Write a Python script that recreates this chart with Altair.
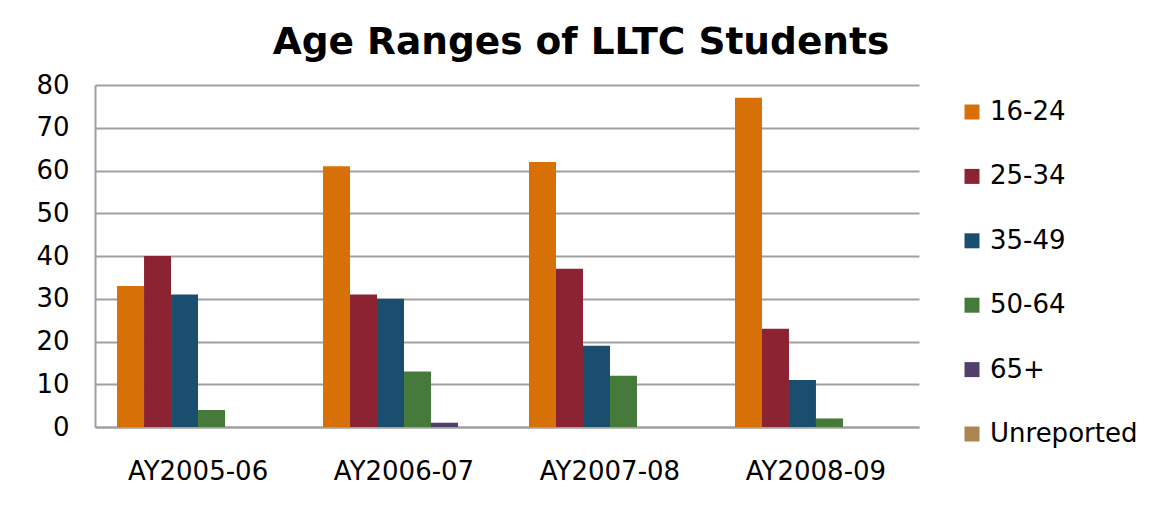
import altair as alt
import pandas as pd

years = ["AY2005-06", "AY2006-07", "AY2007-08", "AY2008-09"]
groups = ["16-24", "25-34", "35-49", "50-64", "65+", "Unreported"]
v_16_24 = [33, 61, 62, 77]
v_25_34 = [40, 31, 37, 23]
v_35_49 = [31, 30, 19, 11]
v_50_64 = [4, 13, 12, 2]
v_65 = [0, 1, 0, 0]
v_unrep = [0, 0, 0, 0]
colors = ["#D87008", "#8C2332", "#1A4E6E", "#467A3A", "#533F6B", "#AB8652"]

series = [v_16_24, v_25_34, v_35_49, v_50_64, v_65, v_unrep]
rows = []
for g, vals in zip(groups, series):
    for y, v in zip(years, vals):
        rows.append({"year": y, "age": g, "count": v})
df = pd.DataFrame(rows)

font = "DejaVu Sans"

chart = alt.Chart(df).mark_bar().encode(
    x=alt.X("year:N", sort=years, title=None,
            scale=alt.Scale(paddingInner=0.2136, paddingOuter=0.107),
            axis=alt.Axis(labelAngle=0, labelFontSize=26, labelFont=font, labelColor="#000000",
                          labelPadding=31, ticks=False, domainColor="#A0A0A0", domainWidth=2)),
    xOffset=alt.XOffset("age:N", sort=groups),
    y=alt.Y("count:Q", title=None,
            scale=alt.Scale(domain=[0, 80], nice=False),
            axis=alt.Axis(values=[0, 10, 20, 30, 40, 50, 60, 70, 80], labelFontSize=26, labelFont=font,
                          labelColor="#000000", labelPadding=26, ticks=False,
                          domainColor="#A0A0A0", domainWidth=2,
                          gridColor="#A0A0A0", gridWidth=1.8)),
    color=alt.Color("age:N", sort=groups, title=None,
                    scale=alt.Scale(domain=groups, range=colors),
                    legend=alt.Legend(symbolType="square", symbolSize=225, symbolStrokeWidth=0,
                                      labelFontSize=26, labelFont=font, labelColor="#000000",
                                      rowPadding=38.4, orient="none", legendX=864, legendY=14,
                                      padding=0, labelOffset=5)),
).properties(
    width=824, height=342,
    title=alt.Title("Age Ranges of LLTC Students", fontSize=37.5, font=font, fontWeight="bold",
                    color="#000000", anchor="middle", frame="bounds", offset=11, dx=-6),
    padding={"left": 27, "top": 15, "right": 5, "bottom": 5},
).configure_view(stroke=None)

chart.save("out.html", embed_options={"renderer": "svg", "actions": False})
